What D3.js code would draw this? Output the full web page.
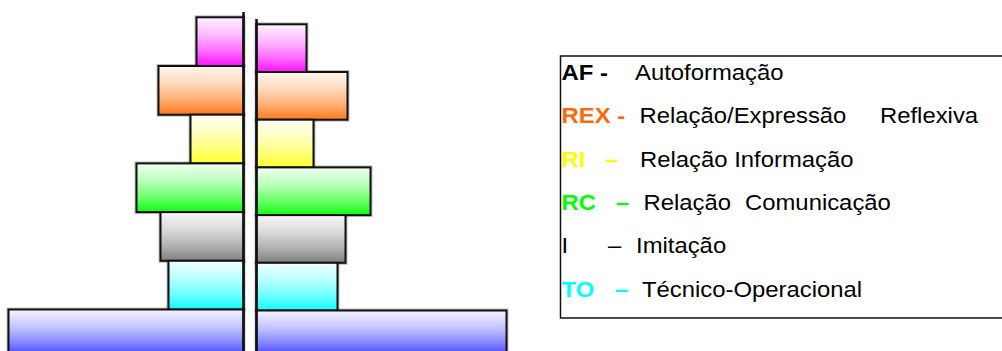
<!DOCTYPE html>
<html>
<head>
<meta charset="utf-8">
<script src="https://cdn.jsdelivr.net/npm/d3@7"></script>
<style>
  html, body { margin: 0; padding: 0; background: #fff; }
  svg { display: block; font-family: "Liberation Sans", Arial, sans-serif; }
</style>
</head>
<body>
<svg id="chart" width="1002" height="351"></svg>
<script>
// categories, top to bottom (the last blue one has no legend entry)
const categories = ["AF", "REX", "RI", "RC", "I", "TO", "BASE"];
const barColors = ["#ff10ff", "#ff7a1a", "#ffff2a", "#10ff10", "#808080", "#10ffff", "#3434ff"];

// bar lengths (same unit on both sides)
const leftValues = [47, 85, 53, 107, 83, 75, 235];
const rightValues = [50, 91, 57, 114, 89, 81, 250];

// legend texts
const legendCodes = ["AF -", "REX -", "RI", "RC", "I", "TO"];
const legendCodeColors = ["#000000", "#ff6a10", "#ffff00", "#00ff00", "#000000", "#00ffff"];
const legendDashes = ["", "", "–", "–", "–", "–"];
const legendLabels = [
  ["Autoformação"],
  ["Relação/Expressão", "Reflexiva"],
  ["Relação Informação"],
  ["Relação", "Comunicação"],
  ["Imitação"],
  ["Técnico-Operacional"]
];

const svg = d3.select("#chart");
const defs = svg.append("defs");

// -------- gradients --------
categories.forEach((c, i) => {
  const g = defs.append("linearGradient")
    .attr("id", "grad-" + c)
    .attr("x1", 0).attr("y1", 0).attr("x2", 0).attr("y2", 1);
  const mix = d3.interpolateRgb("#ffffff", barColors[i]);
  [[0, 0.06], [0.35, 0.28], [0.7, 0.62], [1, 1]].forEach(([o, t]) => {
    g.append("stop").attr("offset", o).attr("stop-color", mix(t));
  });
});

// -------- scales --------
const axisL = 243.5;
const axisR = 256.5;
const unit = d3.scaleLinear().domain([0, 250]).range([0, 250]);

const yL = d3.scaleBand().domain(categories).range([17.3, 17.3 + 7 * 48.7]);
const yR = d3.scaleBand().domain(categories).range([24.3, 24.3 + 7 * 47.7]);

const rows = categories.map((c, i) => ({ c, color: barColors[i], l: leftValues[i], r: rightValues[i] }));

function drawSide(g, y, side) {
  const val = (d) => (side === "left" ? d.l : d.r);
  const xPos = (d) => (side === "left" ? axisL - unit(val(d)) : axisR);

  // soft halo under the outline
  g.selectAll("rect.halo")
    .data(rows)
    .join("rect")
    .attr("class", "halo")
    .attr("x", xPos)
    .attr("y", (d) => y(d.c))
    .attr("width", (d) => unit(val(d)))
    .attr("height", y.bandwidth())
    .attr("fill", "none")
    .attr("stroke", "#000")
    .attr("stroke-opacity", 0.25)
    .attr("stroke-width", 4);

  g.selectAll("rect.bar")
    .data(rows)
    .join("rect")
    .attr("class", "bar")
    .attr("x", xPos)
    .attr("y", (d) => y(d.c))
    .attr("width", (d) => unit(val(d)))
    .attr("height", y.bandwidth())
    .attr("fill", (d) => `url(#grad-${d.c})`)
    .attr("stroke", "#111")
    .attr("stroke-width", 2);
}

drawSide(svg.append("g"), yL, "left");
drawSide(svg.append("g"), yR, "right");

// central axis lines
svg.append("line")
  .attr("x1", axisL).attr("x2", axisL)
  .attr("y1", 12).attr("y2", 351)
  .attr("stroke", "#111").attr("stroke-width", 2.5);
svg.append("line")
  .attr("x1", axisR).attr("x2", axisR)
  .attr("y1", 19).attr("y2", 351)
  .attr("stroke", "#111").attr("stroke-width", 2.5);

// -------- legend --------
const legend = svg.append("g");
legend.append("rect")
  .attr("x", 560.5).attr("y", 56)
  .attr("width", 460).attr("height", 262)
  .attr("fill", "#fff")
  .attr("stroke", "#111")
  .attr("stroke-width", 1.5);

const baseY = 80;
const stepY = 43.3;
const fontSize = 21.5;
const stretch = 1.11;
const dashX = [0, 0, 605, 616, 608, 615];
const labelX = [
  [635],
  [639.5, 880],
  [640],
  [643.5, 745],
  [636],
  [642]
];

function legendText(x, y, txt) {
  return legend.append("text")
    .attr("transform", `translate(${x},${y}) scale(${stretch},1)`)
    .attr("font-size", fontSize)
    .text(txt);
}

legendCodes.forEach((code, i) => {
  const yy = baseY + i * stepY;
  const weight = code === "I" ? 400 : 700;
  legendText(561.5, yy, code)
    .attr("font-weight", weight)
    .attr("fill", legendCodeColors[i]);

  if (legendDashes[i]) {
    legendText(dashX[i], yy, legendDashes[i])
      .attr("font-weight", weight)
      .attr("fill", legendCodeColors[i]);
  }

  legendLabels[i].forEach((lab, j) => {
    legendText(labelX[i][j], yy, lab).attr("fill", "#000");
  });
});
</script>
</body>
</html>
